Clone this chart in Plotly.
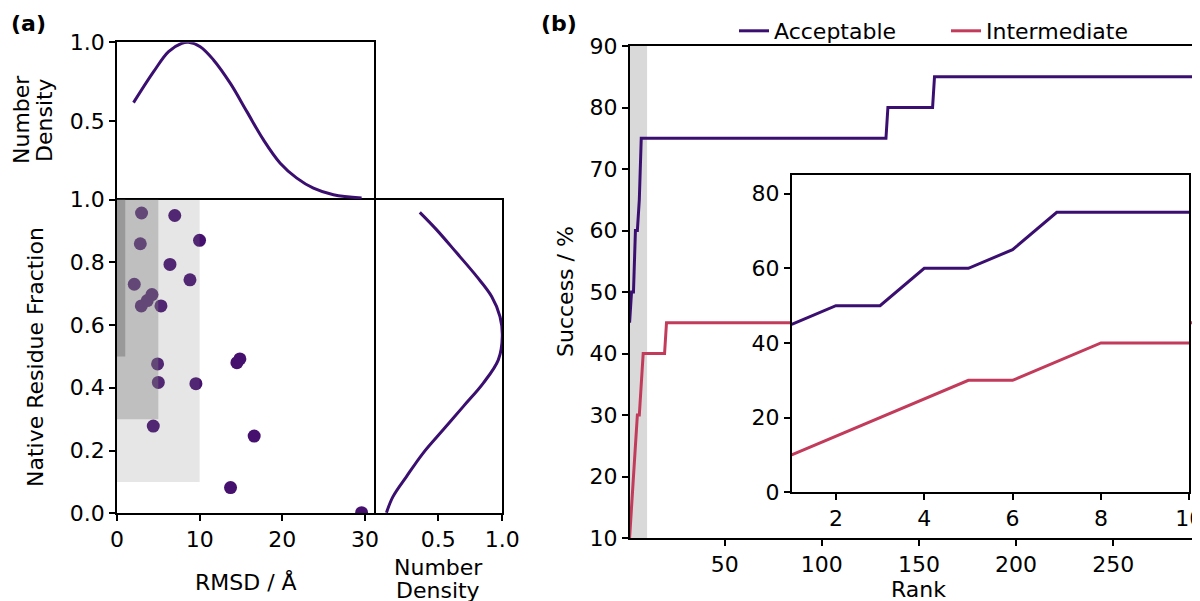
import plotly.graph_objects as go

# ---------------- data ----------------
# panel (a): scatter of RMSD vs native residue fraction
rmsd = [2.97, 6.99, 9.99, 2.82, 6.41, 8.83, 2.09, 4.23, 3.66, 2.94,
        5.32, 14.87, 14.51, 4.91, 5.00, 9.55, 4.39, 16.6, 13.74, 29.6]
fnat = [0.957, 0.949, 0.870, 0.859, 0.793, 0.744, 0.730, 0.697, 0.678, 0.661,
        0.661, 0.492, 0.480, 0.476, 0.417, 0.413, 0.278, 0.246, 0.082, 0.002]

# marginal density of RMSD (top)
dens_rmsd_x = [2.0, 4.43, 6.24, 7.85, 8.66, 10.07, 11.68, 13.7, 15.72, 17.73,
               19.75, 21.76, 23.77, 26.19, 29.6]
dens_rmsd_y = [0.616, 0.813, 0.941, 0.994, 1.0, 0.972, 0.888, 0.740, 0.559, 0.379,
               0.231, 0.136, 0.072, 0.030, 0.009]

# marginal density of native residue fraction (right)
dens_fnat_y = [0.959, 0.904, 0.830, 0.755, 0.691, 0.627, 0.564, 0.489, 0.415,
               0.340, 0.266, 0.192, 0.117, 0.053, 0.002]
dens_fnat_x = [0.357, 0.487, 0.644, 0.800, 0.917, 0.982, 1.0, 0.969, 0.852,
               0.695, 0.539, 0.383, 0.253, 0.148, 0.097]

# quality zones (RMSD upper bound, fraction lower bound)
zone_rmsd_max = [10, 5, 1]
zone_fnat_min = [0.1, 0.3, 0.5]
zone_opacity = [0.2, 0.38, 0.6]

# panel (b): success vs rank (change points)
acc_rank = [1, 2, 3, 4, 5, 6, 7, 133, 134, 157, 158, 295]
acc_succ = [45, 50, 50, 60, 60, 65, 75, 75, 80, 80, 85, 85]
int_rank = [1, 2, 3, 4, 5, 6, 7, 8, 19, 20, 295]
int_succ = [10, 15, 20, 25, 30, 30, 35, 40, 40, 45, 45]

# inset: top 10 ranks
inset_rank = [1, 2, 3, 4, 5, 6, 7, 8, 9, 10]
inset_acc = [45, 50, 50, 60, 60, 65, 75, 75, 75, 75]
inset_int = [10, 15, 20, 25, 30, 30, 35, 40, 40, 40]

top_band = [1, 10]

# ---------------- styling ----------------
OFF = 8                      # page offset of the figure (body margin)
W, H = 1200 - OFF, 601 - OFF
FONT = "DejaVu Sans"
FS = 22
ACC = "#3b0f70"
INT = "#c23b5b"
PT = "#45106e"


def fx(p):
    return (p - OFF) / W


def fy(p):
    return 1 - (p - OFF) / H


fig = go.Figure()

fig.add_trace(go.Scatter(x=rmsd, y=fnat, mode="markers", xaxis="x", yaxis="y",
                         marker=dict(color=PT, size=13, line=dict(width=0)),
                         showlegend=False, hoverinfo="skip"))
fig.add_trace(go.Scatter(x=dens_rmsd_x, y=dens_rmsd_y, mode="lines", xaxis="x2", yaxis="y2",
                         line=dict(color=ACC, width=3, shape="spline"), showlegend=False))
fig.add_trace(go.Scatter(x=dens_fnat_x, y=dens_fnat_y, mode="lines", xaxis="x3", yaxis="y3",
                         line=dict(color=ACC, width=3, shape="spline"), showlegend=False))

fig.add_trace(go.Scatter(x=acc_rank, y=acc_succ, mode="lines", xaxis="x4", yaxis="y4",
                         name="Acceptable", line=dict(color=ACC, width=3)))
fig.add_trace(go.Scatter(x=int_rank, y=int_succ, mode="lines", xaxis="x4", yaxis="y4",
                         name="Intermediate", line=dict(color=INT, width=3)))

fig.add_trace(go.Scatter(x=inset_rank, y=inset_acc, mode="lines", xaxis="x5", yaxis="y5",
                         showlegend=False, line=dict(color=ACC, width=3)))
fig.add_trace(go.Scatter(x=inset_rank, y=inset_int, mode="lines", xaxis="x5", yaxis="y5",
                         showlegend=False, line=dict(color=INT, width=3)))

ax = dict(showline=True, linecolor="black", linewidth=1.5, ticks="outside", ticklen=6,
          tickwidth=1.5, tickcolor="black", showgrid=False, zeroline=False,
          automargin=False, ticklabeloverflow="allow",
          tickfont=dict(family=FONT, size=FS, color="black"))

shapes = []
for xm, ym, op in zip(zone_rmsd_max, zone_fnat_min, zone_opacity):
    shapes.append(dict(type="rect", xref="x", yref="y", x0=0, x1=xm, y0=ym, y1=1,
                       fillcolor="rgb(128,128,128)", opacity=op, line=dict(width=0),
                       layer="above"))
shapes.append(dict(type="rect", xref="x4", yref="y4 domain", x0=top_band[0], x1=top_band[1],
                   y0=0, y1=1, fillcolor="#d9d9d9", line=dict(width=0), layer="below"))
shapes.append(dict(type="rect", xref="x5 domain", yref="y5 domain", x0=0, x1=1, y0=0, y1=1,
                   fillcolor="white", line=dict(width=0), layer="below"))

sc_x = [fx(117), fx(374)]
sc_y = [fy(513.3), fy(199.5)]

fig.update_layout(
    width=W, height=H, margin=dict(l=0, r=0, t=0, b=0, autoexpand=False),
    paper_bgcolor="white", plot_bgcolor="white",
    font=dict(family=FONT, size=FS, color="black"),
    xaxis=dict(ax, domain=sc_x, range=[0, 31.1], tickvals=[0, 10, 20, 30], anchor="y", mirror=True),
    yaxis=dict(ax, domain=sc_y, range=[0, 1], tickvals=[0, 0.2, 0.4, 0.6, 0.8, 1.0],
               tickformat=".1f", anchor="x", mirror=True),
    xaxis2=dict(ax, domain=sc_x, range=[0, 31.1], anchor="y2", side="top",
                showticklabels=False, ticks=""),
    yaxis2=dict(ax, domain=[fy(199.5), fy(42.3)], range=[0, 1], tickvals=[0.5, 1.0],
                tickformat=".1f", anchor="x2", mirror=True),
    xaxis3=dict(ax, domain=[fx(374), fx(502.3)], range=[0, 1], tickvals=[0.5, 1.0],
                tickformat=".1f", anchor="y3", mirror=True),
    yaxis3=dict(ax, domain=sc_y, range=[0, 1], anchor="x3", side="right",
                showticklabels=False, ticks=""),
    xaxis4=dict(ax, domain=[fx(629.6), 1.0], range=[1, 294.7],
                tickvals=[50, 100, 150, 200, 250], anchor="y4", mirror=True),
    yaxis4=dict(ax, domain=[fy(538), fy(46)], range=[10, 90],
                tickvals=[10, 20, 30, 40, 50, 60, 70, 80, 90], anchor="x4"),
    xaxis5=dict(ax, domain=[fx(791.7), fx(1189.3)], range=[1, 10],
                tickvals=[2, 4, 6, 8, 10], anchor="y5", mirror=True),
    yaxis5=dict(ax, domain=[fy(492.3), fy(175)], range=[0, 85],
                tickvals=[0, 20, 40, 60, 80], anchor="x5", mirror=True),
    shapes=shapes,
    legend=dict(orientation="h", x=fx(734), y=fy(31), xanchor="left", yanchor="middle",
                bgcolor="rgba(0,0,0,0)", font=dict(family=FONT, size=FS),
                entrywidth=167, entrywidthmode="pixels"),
    showlegend=True,
)

ann = [
    dict(text="<b>(a)</b>", x=fx(9), y=fy(24), xanchor="left", yanchor="middle"),
    dict(text="<b>(b)</b>", x=fx(539), y=fy(24), xanchor="left", yanchor="middle"),
    dict(text="Native Residue Fraction", x=fx(35), y=fy(357), textangle=-90,
         xanchor="center", yanchor="middle"),
    dict(text="Number", x=fx(21), y=fy(120), textangle=-90, xanchor="center", yanchor="middle"),
    dict(text="Density", x=fx(44), y=fy(120), textangle=-90, xanchor="center", yanchor="middle"),
    dict(text="RMSD / Å", x=fx(246), y=fy(582), xanchor="center", yanchor="middle"),
    dict(text="Number", x=fx(438), y=fy(567), xanchor="center", yanchor="middle"),
    dict(text="Density", x=fx(438), y=fy(590), xanchor="center", yanchor="middle"),
    dict(text="Success / %", x=fx(565), y=fy(292), textangle=-90,
         xanchor="center", yanchor="middle"),
    dict(text="Rank", x=fx(918), y=fy(589), xanchor="center", yanchor="middle"),
]
for a in ann:
    a.update(xref="paper", yref="paper", showarrow=False,
             font=dict(family=FONT, size=FS, color="black"))
fig.update_layout(annotations=ann)

fig.write_html("out.html")
